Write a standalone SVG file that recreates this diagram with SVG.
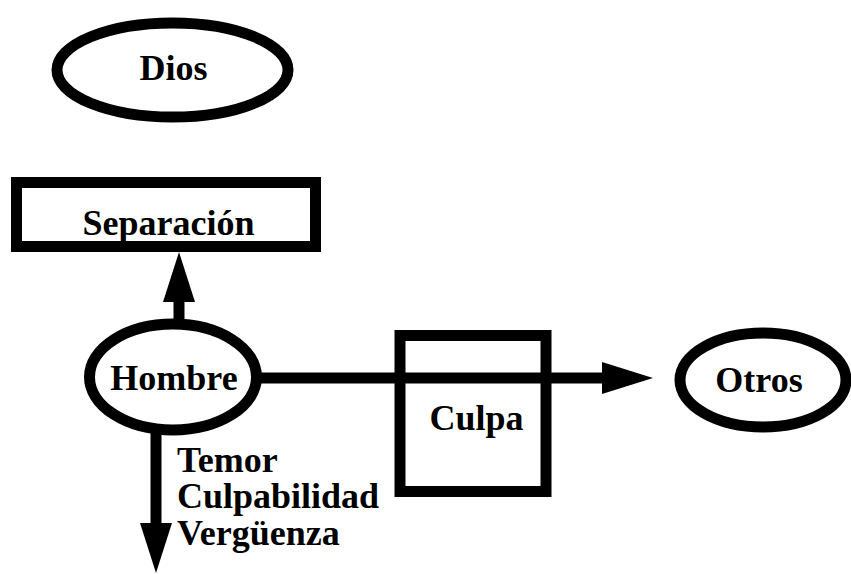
<svg xmlns="http://www.w3.org/2000/svg" width="851" height="574" viewBox="0 0 851 574">
<style>
.n{fill:#fff;stroke:#000;stroke-width:11}
.b{fill:none;stroke:#000;stroke-width:11}
.t{font-family:"Liberation Serif","Times New Roman",serif;font-weight:bold;font-size:36px;fill:#000}
.c{stroke:#000;stroke-width:11;fill:none}
.h{fill:#000;stroke:none}
</style>
<rect width="851" height="574" fill="#fff"/>
<g id="dios">
<ellipse class="n" cx="172.5" cy="70" rx="115.5" ry="47"/>
<text class="t" x="173.5" y="80" text-anchor="middle">Dios</text>
</g>
<g id="separacion">
<rect class="b" x="16.5" y="182.5" width="299" height="64"/>
<text class="t" x="168.5" y="235" text-anchor="middle">Separación</text>
</g>
<g id="connectors">
<line class="c" x1="179" y1="300" x2="179" y2="322"/>
<polygon class="h" points="179,252 195,302 163,302"/>
<line class="c" x1="156" y1="428" x2="156" y2="525"/>
<polygon class="h" points="140,523 172,523 156,573"/>
<line class="c" x1="255" y1="378" x2="604" y2="378"/>
<polygon class="h" points="602,362 653,378 602,394"/>
</g>
<g id="hombre">
<ellipse class="n" cx="173" cy="377" rx="83.5" ry="53"/>
<text class="t" x="174" y="390" text-anchor="middle">Hombre</text>
</g>
<g id="culpa">
<rect class="b" x="400" y="335.5" width="146" height="156"/>
<text class="t" x="476.5" y="430" text-anchor="middle">Culpa</text>
</g>
<g id="otros">
<ellipse class="n" cx="763" cy="380" rx="83" ry="47"/>
<text class="t" x="759" y="392" text-anchor="middle">Otros</text>
</g>
<g id="efectos">
<text class="t" x="177" y="472">Temor</text>
<text class="t" x="177" y="508">Culpabilidad</text>
<text class="t" x="177" y="545">Vergüenza</text>
</g>
</svg>
